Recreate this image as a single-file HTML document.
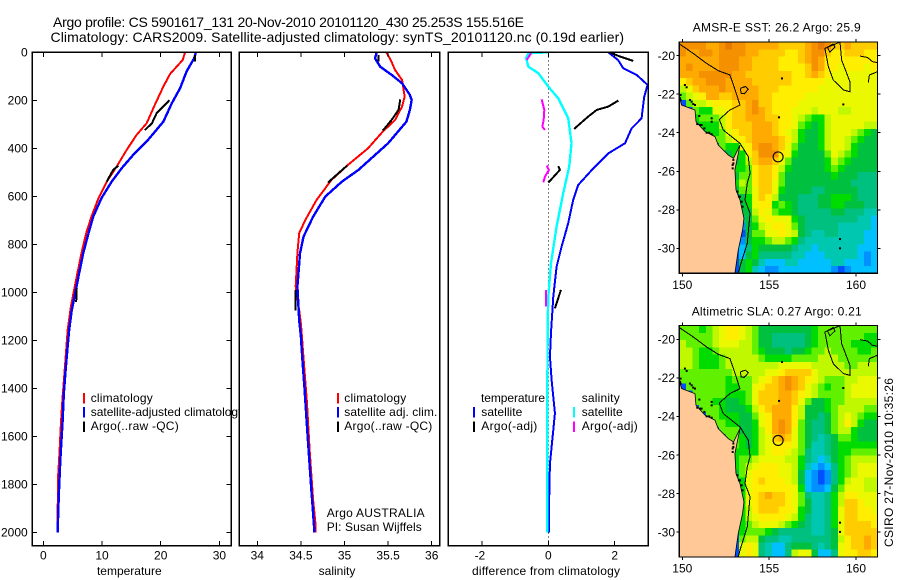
<!DOCTYPE html>
<html>
<head>
<meta charset="utf-8">
<title>Argo profile 5901617_131</title>
<style>
html,body{margin:0;padding:0;background:#fff;}
svg{display:block;}
text{font-family:"Liberation Sans",Arial,sans-serif;font-size:12px;fill:#000;}
.title{font-size:14px;}
</style>
</head>
<body>
<svg id="chart" xmlns="http://www.w3.org/2000/svg" width="900" height="580" viewBox="0 0 900 580">
<defs>
<clipPath id="clip-temp"><rect x="32.3" y="52.3" width="199" height="493.4"/></clipPath>
<clipPath id="clip-sal"><rect x="239.3" y="52.3" width="200.4" height="493.4"/></clipPath>
<clipPath id="clip-diff"><rect x="448.3" y="52.3" width="200" height="493.4"/></clipPath>
<clipPath id="clip-map1"><rect x="679.3" y="42" width="198" height="231.3"/></clipPath>
<clipPath id="clip-map2"><rect x="679.3" y="325.7" width="198" height="231.6"/></clipPath>
</defs>
<rect width="900" height="580" fill="#fff"/>
<text class="title" x="53" y="27" textLength="471" lengthAdjust="spacing">Argo profile: CS 5901617_131 20-Nov-2010 20101120_430 25.253S 155.516E</text>
<text class="title" x="50.5" y="42" textLength="573.5" lengthAdjust="spacing">Climatology: CARS2009. Satellite-adjusted climatology: synTS_20101120.nc (0.19d earlier)</text>

<g id="panel-temp">
  <rect x="32.3" y="52.3" width="199" height="493.4" fill="#fff"/>
  <g id="temp-plot" clip-path="url(#clip-temp)"></g>
  <g id="temp-axes"></g>
  <text x="129.3" y="575" text-anchor="middle">temperature</text>
  <g>
    <rect x="83" y="393" width="2" height="10.5" fill="#f00"/>
    <text x="90.7" y="402" textLength="62">climatology</text>
    <rect x="83" y="407" width="2" height="10.5" fill="#00f"/>
    <text x="90.7" y="416">satellite-adjusted climatology</text>
    <rect x="83" y="421.5" width="2" height="10.5" fill="#000"/>
    <text x="90.7" y="430" textLength="88">Argo(..raw -QC)</text>
  </g>
</g>

<g id="panel-sal">
  <rect x="239.3" y="52.3" width="200.4" height="493.4" fill="#fff"/>
  <g id="sal-plot" clip-path="url(#clip-sal)"></g>
  <g id="sal-axes"></g>
  <text x="337" y="575" text-anchor="middle">salinity</text>
  <g>
    <rect x="337" y="393" width="2" height="10.5" fill="#f00"/>
    <text x="344.3" y="402" textLength="62">climatology</text>
    <rect x="337" y="407" width="2" height="10.5" fill="#00f"/>
    <text x="344.3" y="416" textLength="93">satellite adj. clim.</text>
    <rect x="337" y="421.5" width="2" height="10.5" fill="#000"/>
    <text x="344.3" y="430" textLength="88">Argo(..raw -QC)</text>
  </g>
  <text x="326.7" y="517" textLength="98">Argo AUSTRALIA</text>
  <text x="326.7" y="531" textLength="95">PI: Susan Wijffels</text>
</g>

<g id="panel-diff">
  <rect x="448.3" y="52.3" width="200" height="493.4" fill="#fff"/>
  <g id="diff-plot" clip-path="url(#clip-diff)"></g>
  <g id="diff-axes"></g>
  <text x="546" y="575" text-anchor="middle" textLength="148">difference from climatology</text>
  <g>
    <text x="481" y="402" textLength="64">temperature</text>
    <rect x="473" y="407" width="2" height="10.5" fill="#00f"/>
    <text x="481.3" y="416" textLength="41">satellite</text>
    <rect x="473" y="421.5" width="2" height="10.5" fill="#000"/>
    <text x="481.3" y="430" textLength="56">Argo(-adj)</text>
    <text x="581.7" y="402" textLength="38">salinity</text>
    <rect x="573" y="407" width="2" height="10.5" fill="#0ff"/>
    <text x="581.7" y="416" textLength="41">satellite</text>
    <rect x="573" y="421.5" width="2" height="10.5" fill="#f0f"/>
    <text x="581.7" y="430" textLength="56">Argo(-adj)</text>
  </g>
</g>

<g id="map1"></g>
<text x="776.7" y="31.5" text-anchor="middle" textLength="168">AMSR-E SST: 26.2 Argo: 25.9</text>
<g id="map2"></g>
<text x="776.7" y="315.5" text-anchor="middle" textLength="170">Altimetric SLA: 0.27 Argo: 0.21</text>
<text transform="translate(893 547) rotate(-90)" textLength="169">CSIRO 27-Nov-2010 10:35:26</text>
</svg>

<script>
// ---------- profile data ----------
const depthTicks = [0,200,400,600,800,1000,1200,1400,1600,1800,2000];
const tempTicks = [0,10,20,30];
const salTicks = [34,34.5,35,35.5,36];
const diffTicks = [-2,0,2];

const tempClimDepth = [0,32,90,143,219,296,344,407,476,539,608,685,754,837,921,983,1060,1157,1338,1449,1546,1671,1754,1900,2000];
const tempClimValues = [24.15,23.75,21.6,20.45,19.0,17.6,15.9,14.2,12.5,10.8,9.4,8.2,7.3,6.5,5.8,5.3,4.7,4.15,3.6,3.25,3.0,2.75,2.55,2.45,2.4];
const tempSatDepth = [0,25,80,150,212,289,372,428,483,539,608,685,754,837,921,983,1074,1157,1226,1324,1421,1532,1615,1699,1810,1907,2000];
const tempSatValues = [26.0,25.7,24.4,23.3,21.9,20.45,17.6,15.3,13.35,11.65,9.9,8.5,7.7,6.8,6.1,5.6,4.85,4.4,4.15,3.8,3.5,3.3,3.1,2.9,2.7,2.55,2.45];
const tempArgoDepth = [11,39,null,199,226,254,296,324,null,472,490,539,null,985,1041];
const tempArgoValues = [25.85,25.85,null,21.5,20.45,19.3,18.5,17.3,null,12.8,11.9,10.8,null,5.7,5.6];

const salClimDepth = [0,32,74,115,185,226,282,330,400,469,532,615,699,754,837,976,1074,1130,1463,1657,1865,1976,2000];
const salClimValues = [35.48,35.53,35.58,35.66,35.69,35.66,35.58,35.44,35.27,35.04,34.85,34.68,34.55,34.48,34.46,34.44,34.48,34.5,34.57,34.6,34.64,34.67,34.67];
const salSatDepth = [0,25,60,94,129,178,199,240,289,379,428,490,539,601,685,768,837,976,1115,1185,1296,1393,1504,1615,1719,1824,1921,2000];
const salSatValues = [35.37,35.35,35.41,35.54,35.66,35.75,35.77,35.75,35.71,35.5,35.35,35.16,34.97,34.78,34.64,34.53,34.49,34.46,34.48,34.5,34.52,34.54,34.56,34.58,34.6,34.62,34.64,34.655];
const salArgoDepth = [11,39,null,196,240,282,326,null,472,504,543,null,990,1075];
const salArgoValues = [35.39,35.39,null,35.64,35.62,35.54,35.44,null,35.03,34.93,34.81,null,34.44,34.44];

const diffTempSatDepth = [0,32,67,94,136,185,240,275,317,379,421,483,553,615,712,810,893,1018,1171,1268,1365,1435,1504,1574,1643,1713,1824,2000];
const diffTempSatValues = [1.81,2.1,2.26,2.66,2.99,2.89,2.84,2.81,2.51,2.31,1.81,1.36,0.9,0.75,0.6,0.4,0.25,0.15,0.08,0.05,0.1,0.15,0.2,0.15,0.1,0.05,0.03,0.02];
const diffSalSatDepth = [0,4,25,60,87,143,192,275,379,476,587,726,879,1018,1129,1500,2000];
const diffSalSatValues = [0,-0.6,-0.67,-0.6,-0.3,0,0.3,0.6,0.7,0.63,0.45,0.25,0.08,0,-0.02,-0.03,-0.03];
const diffTempArgoDepth = [1,15,36,null,201,226,240,268,319,null,474,490,543,null,990,1067];
const diffTempArgoValues = [1.86,2.11,2.56,null,2.11,1.81,1.46,1.2,0.78,null,0.3,0.35,0,null,0.38,0.2];
const diffSalArgoDepth = [4,32,null,196,240,282,310,324,null,472,490,518,542,null,990,1060];
const diffSalArgoValues = [-0.52,-0.65,null,-0.2,-0.12,-0.14,-0.18,-0.1,null,-0.05,0.02,-0.1,-0.15,null,-0.07,-0.07];

// ---------- map data (colour levels 0-14, north to south, west to east) ----------
const sstLevels = [
[13,13,13,13,12,12,13,14,13,13,12,12,12,12,12,11,11,11,11,12,13,14,13,11,11,12,11,11,11,11],
[13,12,12,13,13,12,13,13,13,13,12,12,11,11,11,11,10,10,11,12,13,13,11,10,10,11,11,11,10,10],
[12,12,12,12,12,12,13,13,13,12,12,11,11,11,11,10,10,10,11,12,13,12,10,10,10,10,10,10,10,10],
[12,13,12,12,12,12,13,13,13,12,12,11,11,11,11,10,10,10,10,11,13,12,10,10,9,10,10,10,9,10],
[12,12,12,13,13,13,13,13,12,12,11,11,11,11,11,11,11,10,10,11,12,11,10,9,9,9,9,9,9,9],
[10,11,12,12,13,13,13,12,12,12,12,11,11,11,11,11,11,10,10,10,10,10,9,9,9,9,9,9,9,9],
[8,9,11,12,12,12,13,12,12,12,12,12,11,11,11,10,10,10,10,10,10,9,9,9,9,9,9,9,9,9],
[7,8,9,10,12,12,11,11,12,12,12,12,11,11,10,10,10,10,10,9,9,9,9,9,9,9,9,9,9,9],
[0,7,8,8,9,10,10,10,11,11,12,13,11,11,10,10,10,10,9,9,9,9,9,9,9,9,9,9,9,9],
[0,0,7,6,6,9,9,10,11,11,12,13,12,11,10,10,10,9,9,9,8,9,9,9,8,8,9,9,9,9],
[0,0,6,7,7,7,8,10,11,11,12,12,12,11,11,10,10,9,8,7,6,6,8,9,9,9,9,9,9,9],
[0,0,5,6,6,6,8,10,11,11,11,12,12,12,11,10,10,9,7,6,5,6,8,9,9,9,9,9,8,8],
[0,0,0,5,6,6,7,9,10,11,11,12,12,12,11,10,9,8,6,5,5,6,8,9,9,9,8,7,6,5],
[0,0,0,0,0,7,7,8,9,10,11,12,12,12,12,11,10,8,6,5,5,6,8,9,9,8,7,6,5,5],
[0,0,0,0,0,0,7,6,6,9,10,12,13,13,12,11,9,7,5,5,5,6,8,9,9,8,6,5,5,5],
[0,0,0,0,0,0,0,5,6,6,10,11,13,13,13,10,9,6,5,5,5,5,7,9,8,7,6,5,5,5],
[0,0,0,0,0,0,0,0,5,6,8,11,12,12,11,9,7,5,5,5,5,5,6,8,7,6,5,5,5,5],
[0,0,0,0,0,0,0,0,6,6,7,10,11,11,10,8,6,5,5,5,5,5,6,7,6,5,5,5,5,5],
[0,0,0,0,0,0,0,0,5,7,7,10,11,11,10,7,5,5,5,5,5,5,5,6,5,5,5,4,4,4],
[0,0,0,0,0,0,0,0,6,8,7,10,11,11,9,7,5,5,5,5,5,5,5,5,5,5,4,4,4,4],
[0,0,0,0,0,0,0,0,5,7,7,9,11,11,9,6,5,5,5,5,4,4,5,5,5,5,5,4,4,4],
[0,0,0,0,0,0,0,0,0,5,6,9,11,10,8,5,5,5,4,4,4,5,5,6,6,6,5,4,4,4],
[0,0,0,0,0,0,0,0,0,5,6,9,10,10,6,7,6,5,4,4,4,5,5,6,6,5,5,5,4,4],
[0,0,0,0,0,0,0,0,0,5,5,8,10,9,7,6,6,5,4,4,4,4,4,5,5,4,4,4,3,3],
[0,0,0,0,0,0,0,0,0,4,5,7,9,10,9,9,9,6,5,4,4,4,4,4,4,4,4,3,3,2],
[0,0,0,0,0,0,0,0,0,1,5,6,8,9,10,10,9,7,5,4,4,4,4,4,3,3,3,3,3,2],
[0,0,0,0,0,0,0,0,0,0,5,7,7,9,9,10,9,8,5,4,3,3,4,4,3,3,3,3,2,2],
[0,0,0,0,0,0,0,0,0,1,5,6,6,7,8,8,7,6,4,3,3,3,3,3,3,3,3,3,2,2],
[0,0,0,0,0,0,0,0,0,2,4,6,5,5,5,5,5,4,3,3,2,3,3,3,3,3,3,2,2,2],
[0,0,0,0,0,0,0,0,0,2,5,6,4,4,4,4,4,3,3,2,2,2,3,3,3,3,3,2,1,2],
[0,0,0,0,0,0,0,0,0,5,6,5,3,2,2,2,3,3,2,2,2,2,2,3,3,2,2,2,1,2],
[0,0,0,0,0,0,0,0,0,5,6,3,2,1,1,2,2,2,2,2,2,2,2,1,0,1,2,2,2,2]
];
const slaLevels = [
[7,7,7,6,7,8,9,10,10,9,8,7,5,5,5,5,5,5,5,5,6,7,7,7,7,7,7,7,7,7],
[7,7,7,7,7,8,9,10,10,9,8,7,5,5,4,4,4,4,4,5,6,7,7,7,7,7,7,7,6,6],
[8,7,7,7,7,8,9,9,9,8,8,7,5,5,4,4,4,4,4,5,6,7,7,7,7,7,6,6,6,6],
[8,8,7,6,6,7,8,8,8,8,8,7,6,5,5,5,4,5,5,6,7,7,8,7,7,7,7,6,6,7],
[8,8,7,6,6,6,7,8,8,8,8,8,7,6,6,6,6,7,7,7,7,8,8,8,7,7,7,7,7,7],
[8,8,7,6,6,6,7,8,8,8,8,8,8,8,8,9,9,9,9,9,8,8,8,8,8,7,7,8,8,8],
[7,7,7,7,7,7,7,7,8,8,8,8,8,9,9,10,11,11,11,11,9,8,8,8,8,8,8,8,8,8],
[7,7,7,7,7,7,7,6,7,7,7,8,9,10,11,12,13,12,11,10,9,8,7,7,7,8,8,9,9,9],
[0,7,7,7,7,7,7,6,6,7,7,9,10,11,11,12,13,12,11,9,8,7,6,7,7,8,9,9,9,9],
[0,0,7,7,7,7,7,6,6,6,7,9,11,11,11,12,12,11,10,9,8,7,7,7,7,8,9,9,9,9],
[0,0,7,7,7,6,6,5,5,6,7,9,11,11,11,12,12,11,9,7,5,5,6,7,7,8,8,8,8,8],
[0,0,0,7,7,7,6,5,5,5,6,8,10,11,12,12,12,10,8,5,5,5,6,7,8,8,8,8,7,7],
[0,0,0,0,7,7,6,6,6,5,5,7,9,10,12,12,12,10,8,5,5,4,5,7,8,9,8,7,6,6],
[0,0,0,0,0,7,7,6,6,5,5,6,9,10,12,13,12,10,7,5,4,4,5,7,8,10,8,6,5,5],
[0,0,0,0,0,0,7,7,7,5,5,6,8,10,12,13,12,9,7,5,4,4,5,7,8,8,6,5,5,5],
[0,0,0,0,0,0,0,7,7,6,5,6,8,9,11,12,11,9,7,5,4,3,4,5,7,7,6,5,5,5],
[0,0,0,0,0,0,0,0,7,6,5,6,8,9,10,10,10,9,7,5,3,3,4,5,6,6,6,6,6,6],
[0,0,0,0,0,0,0,0,6,6,6,6,8,9,10,10,9,8,7,4,3,3,4,5,6,6,7,7,7,7],
[0,0,0,0,0,0,0,0,6,7,7,8,9,9,9,9,8,8,6,4,3,2,3,5,6,7,8,8,8,8],
[0,0,0,0,0,0,0,0,6,7,8,9,10,10,10,9,9,8,6,3,2,1,2,4,6,7,8,9,9,9],
[0,0,0,0,0,0,0,0,5,7,9,10,10,10,10,9,9,8,5,2,1,0,1,4,6,7,8,9,9,9],
[0,0,0,0,0,0,0,0,5,6,9,10,11,10,10,10,9,8,5,2,1,0,1,4,6,8,9,9,8,8],
[0,0,0,0,0,0,0,0,0,6,9,10,10,10,10,10,10,9,6,2,1,1,2,5,7,9,9,9,8,8],
[0,0,0,0,0,0,0,0,0,6,9,10,11,12,11,11,10,9,7,4,3,3,4,6,8,10,10,9,9,9],
[0,0,0,0,0,0,0,0,0,6,9,10,11,11,11,11,10,9,7,5,3,3,4,6,8,11,11,10,9,9],
[0,0,0,0,0,0,0,0,0,6,8,10,11,11,11,10,10,9,6,5,3,3,4,6,9,11,11,10,10,9],
[0,0,0,0,0,0,0,0,0,6,8,9,10,10,10,10,9,8,6,4,3,3,4,6,9,11,11,10,10,10],
[0,0,0,0,0,0,0,0,0,6,7,8,9,9,9,8,7,6,5,4,3,3,4,6,9,11,11,11,11,10],
[0,0,0,0,0,0,0,0,0,6,7,7,7,6,5,4,4,4,4,4,3,3,4,5,9,11,11,11,11,11],
[0,0,0,0,0,0,0,0,0,7,8,8,5,4,4,3,3,4,4,4,4,4,4,5,8,10,11,11,12,11],
[0,0,0,0,0,0,0,0,0,9,10,9,4,3,2,2,4,5,5,5,4,3,4,5,9,10,11,11,12,11],
[0,0,0,0,0,0,0,0,0,9,10,9,4,3,2,2,4,8,9,9,5,2,2,4,9,10,10,11,11,10]
];
const lonTicks = [150,155,160];
const latTicks = [20,22,24,26,28,30];
const argoLon = 155.516;
const argoLat = 25.253;
const coastLon = [149.83,149.96,150.73,150.79,151.31,151.88,152.07,152.65,152.95,153.32,153.03,153.09,153.32,153.55,153.47,153.22,153.03,149.83];
const coastLat = [22.16,22.56,22.82,23.43,23.94,24.2,24.64,25.16,25.33,24.64,25.93,26.97,27.49,28.44,29.05,30.09,31.3,31.3];
const shelfLon = [149.83,150.63,151.4,152.07,152.74,152.98,153.32,152.74,152.13,152.36,153.32,153.8,153.9,153.74,153.61,153.9,153.74,153.32,153.22];
const shelfLat = [19.39,19.88,20.4,20.78,21.0,21.61,22.56,22.82,23.31,23.86,24.55,25.24,26.1,26.63,27.49,28.18,29.74,30.95,31.3];
const reefLon = [159.08,158.21,158.41,158.69,159.27,159.65,159.65,159.17,159.08];
const reefLat = [19.29,19.62,20.57,21.26,21.78,21.87,21.35,20.22,19.29];
const capricornLon = [160.23,160.66,160.95,161.23,null,161.23,161.0,160.77,160.71];
const capricornLat = [20.02,20.09,20.31,20.36,null,20.83,20.92,21.0,21.4];
const seamountLon = [153.35,153.63,153.8,153.57,153.38,153.35];
const seamountLat = [21.69,21.6,21.74,21.98,21.95,21.69];
const islandLon = [158.35,158.69,158.79,158.5,158.35];
const islandLat = [19.56,19.39,19.56,19.82,19.56];
const dotLon = [150.86,151.11,151.4,151.69,152.94,152.9,153.26,153.42,149.87,150.63,150.44,151.69,151.69,150.98,150.25,150.15,159.27,159.08,159.08,155.57,155.74,151.02,151.27,151.55,149.9,149.9,150.54,150.73,152.94,152.9,153.17,153.32,153.47];
const dotLat = [23.55,23.6,24.0,24.07,25.59,25.85,27.32,27.58,22.21,22.51,22.3,23.25,23.43,23.13,21.64,21.52,22.53,29.52,30.0,23.2,21.18,23.6,23.77,24.0,22.04,22.3,22.39,22.56,25.41,25.67,27.06,27.32,27.84];

// ---------- axis functions ----------
const SVGNS = 'http://www.w3.org/2000/svg';
function depthY(d){ return 52.3 + d * 0.24; }
function tempX(t){ return 43.3 + t * 5.87; }
function salX(s){ return 257.3 + (s - 34) * 87.2; }
function diffX(v){ return 548.3 + v * 33.2; }
const LON_MIN = 149.83, LON_MAX = 161.23, LAT_MIN = 19.29, LAT_MAX = 31.3;
function mapX(lon){ return 682.3 + (lon - 150) * 17.37; }
function map1Y(lat){ return 55.7 + (lat - 20) * 19.26; }
function map2Y(lat){ return 339.3 + (lat - 20) * 19.26; }

function levelColor(l){
  const ramp = ['#0050ff','#0090ff','#00c0ff','#00c8b0','#00c080','#00c040','#00dc00','#60f000','#c0f800','#eaf800','#ffee00','#ffcc00','#ffaa00','#f59000','#e87800'];
  return ramp[Math.max(0, Math.min(14, Math.round(l)))];
}
function pathFrom(xs, ys, xFn, yFn){
  let d = '', pen = false;
  for (let i = 0; i < xs.length; i++) {
    if (xs[i] === null || ys[i] === null) { pen = false; continue; }
    d += (pen ? 'L' : 'M') + xFn(xs[i]).toFixed(2) + ' ' + yFn(ys[i]).toFixed(2);
    pen = true;
  }
  return d;
}
function styleLine(el, d, color, width){
  el.setAttribute('d', d);
  el.setAttribute('fill', 'none');
  el.setAttribute('stroke', color);
  el.setAttribute('stroke-width', width);
  el.setAttribute('shape-rendering', 'crispEdges');
}
function tickLine(el, x1, y1, x2, y2){
  el.setAttribute('x1', x1); el.setAttribute('y1', y1);
  el.setAttribute('x2', x2); el.setAttribute('y2', y2);
  el.setAttribute('stroke', '#000');
  el.setAttribute('stroke-width', 1);
  el.setAttribute('shape-rendering', 'crispEdges');
}
function labelText(el, x, y, anchor, str){
  el.setAttribute('x', x); el.setAttribute('y', y);
  el.setAttribute('text-anchor', anchor);
  el.textContent = str;
}
function frameRect(el, x, y, w, h){
  el.setAttribute('x', x); el.setAttribute('y', y);
  el.setAttribute('width', w); el.setAttribute('height', h);
  el.setAttribute('fill', 'none');
  el.setAttribute('stroke', '#000');
  el.setAttribute('stroke-width', 1.2);
  el.setAttribute('shape-rendering', 'crispEdges');
}

// ---------- temperature panel ----------
(function(){
  const g = document.getElementById('temp-plot');
  let el;
  el = document.createElementNS(SVGNS, 'path');
  
  
  styleLine(el, pathFrom(tempClimValues, tempClimDepth, tempX, depthY), '#f00', 2);
  g.appendChild(el);
  el = document.createElementNS(SVGNS, 'path');
  
  
  styleLine(el, pathFrom(tempSatValues, tempSatDepth, tempX, depthY), '#00f', 2.4);
  g.appendChild(el);
  el = document.createElementNS(SVGNS, 'path');
  
  
  styleLine(el, pathFrom(tempArgoValues, tempArgoDepth, tempX, depthY), '#000', 2);
  g.appendChild(el);

  const a = document.getElementById('temp-axes');
  el = document.createElementNS(SVGNS, 'rect');
  
  
  frameRect(el, 32.3, 52.3, 199, 493.4);
  a.appendChild(el);
  tempTicks.forEach(function(t){
    const x = tempX(t);
    let k = document.createElementNS(SVGNS, 'line');
    
    
    tickLine(k, x, 545.7, x, 541);
    a.appendChild(k);
    k = document.createElementNS(SVGNS, 'line');
    
    
    tickLine(k, x, 52.3, x, 57);
    a.appendChild(k);
    const l = document.createElementNS(SVGNS, 'text');
    
    
    labelText(l, x, 559.5, 'middle', String(t));
    a.appendChild(l);
  });
  depthTicks.forEach(function(d){
    const y = depthY(d);
    let k = document.createElementNS(SVGNS, 'line');
    
    
    tickLine(k, 32.3, y, 37, y);
    a.appendChild(k);
    k = document.createElementNS(SVGNS, 'line');
    
    
    tickLine(k, 231.3, y, 226.6, y);
    a.appendChild(k);
    const l = document.createElementNS(SVGNS, 'text');
    
    
    labelText(l, 27.7, y + 4.4, 'end', String(d));
    a.appendChild(l);
  });
})();

// ---------- salinity panel ----------
(function(){
  const g = document.getElementById('sal-plot');
  let el;
  el = document.createElementNS(SVGNS, 'path');
  
  
  styleLine(el, pathFrom(salClimValues, salClimDepth, salX, depthY), '#f00', 2);
  g.appendChild(el);
  el = document.createElementNS(SVGNS, 'path');
  
  
  styleLine(el, pathFrom(salSatValues, salSatDepth, salX, depthY), '#00f', 2.4);
  g.appendChild(el);
  el = document.createElementNS(SVGNS, 'path');
  
  
  styleLine(el, pathFrom(salArgoValues, salArgoDepth, salX, depthY), '#000', 2);
  g.appendChild(el);

  const a = document.getElementById('sal-axes');
  el = document.createElementNS(SVGNS, 'rect');
  
  
  frameRect(el, 239.3, 52.3, 200.4, 493.4);
  a.appendChild(el);
  salTicks.forEach(function(s){
    const x = salX(s);
    let k = document.createElementNS(SVGNS, 'line');
    
    
    tickLine(k, x, 545.7, x, 541);
    a.appendChild(k);
    k = document.createElementNS(SVGNS, 'line');
    
    
    tickLine(k, x, 52.3, x, 57);
    a.appendChild(k);
    const l = document.createElementNS(SVGNS, 'text');
    
    
    labelText(l, x, 559.5, 'middle', String(s));
    a.appendChild(l);
  });
})();

// ---------- difference panel ----------
(function(){
  const g = document.getElementById('diff-plot');
  let el;
  el = document.createElementNS(SVGNS, 'line');
  
  
  tickLine(el, diffX(0), 52.3, diffX(0), 545.7);
  el.setAttribute('stroke-dasharray', '1 3');
  g.appendChild(el);
  el = document.createElementNS(SVGNS, 'path');
  
  
  styleLine(el, pathFrom(diffTempSatValues, diffTempSatDepth, diffX, depthY), '#00f', 2);
  g.appendChild(el);
  el = document.createElementNS(SVGNS, 'path');
  
  
  styleLine(el, pathFrom(diffTempArgoValues, diffTempArgoDepth, diffX, depthY), '#000', 2);
  g.appendChild(el);
  el = document.createElementNS(SVGNS, 'path');
  
  
  styleLine(el, pathFrom(diffSalSatValues, diffSalSatDepth, diffX, depthY), '#0ff', 2.4);
  g.appendChild(el);
  el = document.createElementNS(SVGNS, 'path');
  
  
  styleLine(el, pathFrom(diffSalArgoValues, diffSalArgoDepth, diffX, depthY), '#f0f', 2);
  g.appendChild(el);

  const a = document.getElementById('diff-axes');
  el = document.createElementNS(SVGNS, 'rect');
  
  
  frameRect(el, 448.3, 52.3, 200, 493.4);
  a.appendChild(el);
  diffTicks.forEach(function(v){
    const x = diffX(v);
    let k = document.createElementNS(SVGNS, 'line');
    
    
    tickLine(k, x, 545.7, x, 541);
    a.appendChild(k);
    k = document.createElementNS(SVGNS, 'line');
    
    
    tickLine(k, x, 52.3, x, 57);
    a.appendChild(k);
    const l = document.createElementNS(SVGNS, 'text');
    
    
    labelText(l, x - (v < 0 ? 2 : 0), 559.5, 'middle', String(v));
    a.appendChild(l);
  });
})();

// ---------- maps ----------
function drawMap(groupId, levels, yFn, clipId){
  const root = document.getElementById(groupId);
  const clip = document.createElementNS(SVGNS, 'g');
  
  
  clip.setAttribute('clip-path', 'url(#' + clipId + ')');
  root.appendChild(clip);
  const rows = levels.length, cols = levels[0].length;
  const dLon = (LON_MAX - LON_MIN) / cols, dLat = (LAT_MAX - LAT_MIN) / rows;
  for (let r = 0; r < rows; r++) {
    for (let c = 0; c < cols; c++) {
      const cell = document.createElementNS(SVGNS, 'rect');
      
      
      const x0 = mapX(LON_MIN + c * dLon), y0 = yFn(LAT_MIN + r * dLat);
      cell.setAttribute('x', x0.toFixed(2));
      cell.setAttribute('y', y0.toFixed(2));
      cell.setAttribute('width', (dLon * 17.37 + 0.6).toFixed(2));
      cell.setAttribute('height', (dLat * 19.26 + 0.6).toFixed(2));
      cell.setAttribute('fill', levelColor(levels[r][c]));
      cell.setAttribute('shape-rendering', 'crispEdges');
      clip.appendChild(cell);
    }
  }
  const land = document.createElementNS(SVGNS, 'path');
  
  
  land.setAttribute('d', pathFrom(coastLon, coastLat, mapX, yFn) + 'Z');
  land.setAttribute('fill', '#ffc896');
  land.setAttribute('stroke', '#000');
  land.setAttribute('stroke-width', 0.8);
  clip.appendChild(land);

  const shelf = document.createElementNS(SVGNS, 'path');
  
  
  styleLine(shelf, pathFrom(shelfLon, shelfLat, mapX, yFn), '#000', 1);
  clip.appendChild(shelf);
  const reef = document.createElementNS(SVGNS, 'path');
  
  
  styleLine(reef, pathFrom(reefLon, reefLat, mapX, yFn), '#000', 1);
  clip.appendChild(reef);
  const capr = document.createElementNS(SVGNS, 'path');
  
  
  styleLine(capr, pathFrom(capricornLon, capricornLat, mapX, yFn), '#000', 1);
  clip.appendChild(capr);
  const mount = document.createElementNS(SVGNS, 'path');
  
  
  styleLine(mount, pathFrom(seamountLon, seamountLat, mapX, yFn), '#000', 1);
  clip.appendChild(mount);
  const isl = document.createElementNS(SVGNS, 'path');
  
  
  styleLine(isl, pathFrom(islandLon, islandLat, mapX, yFn), '#000', 1);
  clip.appendChild(isl);
  dotLon.forEach(function(lon, i){
    const dot = document.createElementNS(SVGNS, 'rect');
    
    
    dot.setAttribute('x', mapX(lon) - 1);
    dot.setAttribute('y', yFn(dotLat[i]) - 1);
    dot.setAttribute('width', 2);
    dot.setAttribute('height', 2);
    dot.setAttribute('fill', '#000');
    clip.appendChild(dot);
  });
  const marker = document.createElementNS(SVGNS, 'circle');
  
  
  marker.setAttribute('cx', mapX(argoLon));
  marker.setAttribute('cy', yFn(argoLat));
  marker.setAttribute('r', 5);
  marker.setAttribute('fill', 'none');
  marker.setAttribute('stroke', '#000');
  marker.setAttribute('stroke-width', 1.1);
  clip.appendChild(marker);

  const frame = document.createElementNS(SVGNS, 'rect');
  
  
  const top = yFn(LAT_MIN), bottom = yFn(LAT_MAX);
  frameRect(frame, mapX(LON_MIN), top, mapX(LON_MAX) - mapX(LON_MIN), bottom - top);
  root.appendChild(frame);
  lonTicks.forEach(function(lon){
    const x = mapX(lon);
    let k = document.createElementNS(SVGNS, 'line');
    
    
    tickLine(k, x, top, x, top - 3);
    root.appendChild(k);
    k = document.createElementNS(SVGNS, 'line');
    
    
    tickLine(k, x, bottom, x, bottom + 3);
    root.appendChild(k);
    const l = document.createElementNS(SVGNS, 'text');
    
    
    labelText(l, x, bottom + 15.7, 'middle', String(lon));
    root.appendChild(l);
  });
  latTicks.forEach(function(lat){
    const y = yFn(lat);
    let k = document.createElementNS(SVGNS, 'line');
    
    
    tickLine(k, 679.3, y, 676.3, y);
    root.appendChild(k);
    k = document.createElementNS(SVGNS, 'line');
    
    
    tickLine(k, 877.3, y, 880.3, y);
    root.appendChild(k);
    const l = document.createElementNS(SVGNS, 'text');
    
    
    labelText(l, 675, y + 4.4, 'end', '-' + lat);
    root.appendChild(l);
  });
}
drawMap('map1', sstLevels, map1Y, 'clip-map1');
drawMap('map2', slaLevels, map2Y, 'clip-map2');
</script>
</body>
</html>
